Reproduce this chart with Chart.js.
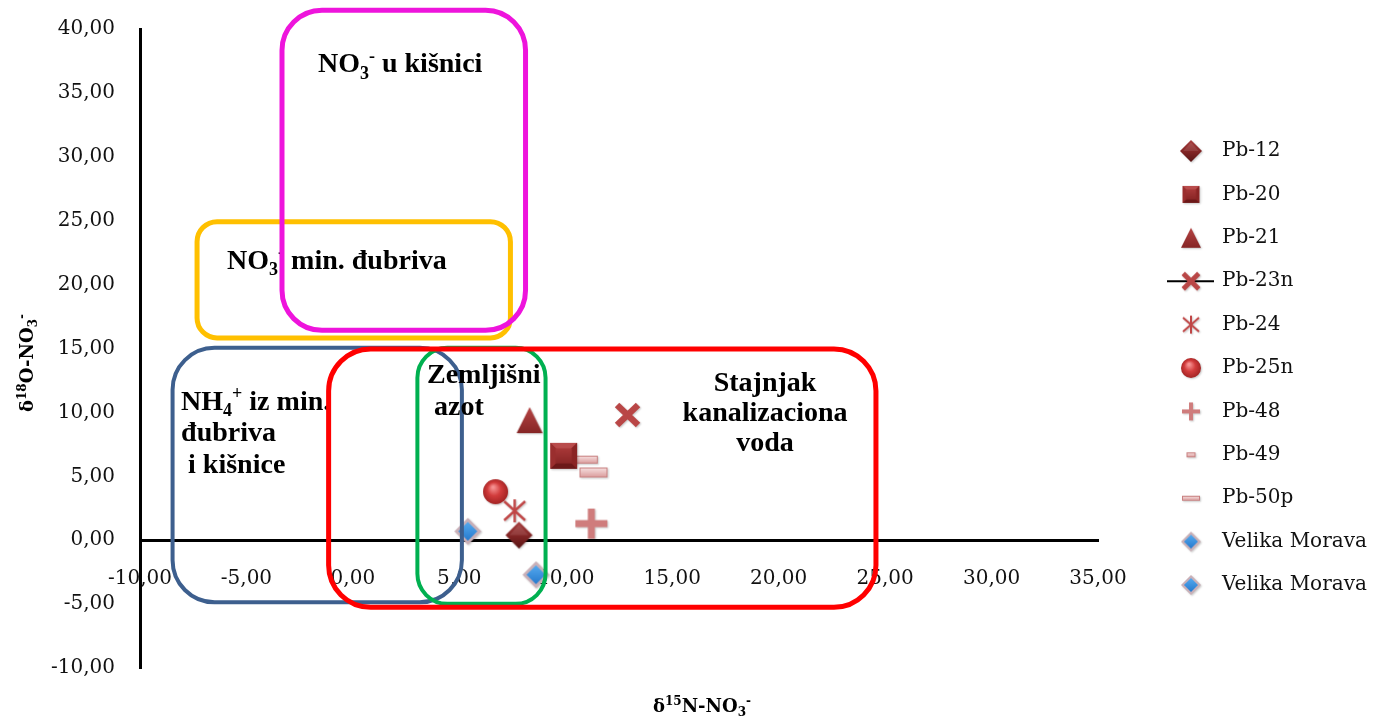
<!DOCTYPE html>
<html>
<head>
<meta charset="utf-8">
<title>δ15N / δ18O nitrata</title>
<script src="https://cdn.jsdelivr.net/npm/chart.js@4/dist/chart.umd.min.js"></script>
<style>
  html, body { margin: 0; padding: 0; background: #fff; }
  #wrap { width: 1387px; height: 717px; }
</style>
</head>
<body>
<div id="wrap"><canvas id="chart" width="1387" height="717"></canvas></div>
<script>
// axis ranges
const xMin = -10, xMax = 35, yMin = -10, yMax = 40, tickStep = 5;

// samples: d15N-NO3 (x) and d18O-NO3 (y)
const sampleNames = ['Pb-12', 'Pb-20', 'Pb-21', 'Pb-23n', 'Pb-24', 'Pb-25n', 'Pb-48', 'Pb-49', 'Pb-50p', 'Velika Morava', 'Velika Morava'];
const d15N = [7.8, 9.9, 8.3, 12.9, 7.6, 6.7, 11.2, 10.8, 11.3, 5.4, 8.6];
const d18O = [0.4, 6.6, 9.4, 9.8, 2.3, 3.8, 1.3, 6.3, 5.3, 0.7, -2.7];

// marker look per sample
const markerKinds = ['diamond', 'square', 'triangle', 'cross', 'asterisk', 'ball', 'plus', 'dash', 'dash', 'blueDiamond', 'blueDiamond'];
const plotSizes   = [[27,27],[27,26],[26,26],[27,26],[23,23],[25,25],[32,30],[30,8],[28,10],[27,27],[27,27]];
const legendSizes = [[22,22],[17,17],[20,20],[20,20],[18,18],[20,20],[18,18],[9,5],[18,5],[20,20],[20,20]];

// source fields (data units) with their labels
const regions = [
  { x: [-7.32, 7.40], y: [15.83, 24.92], color: '#FFC000', r: 20, w: 5,
    label: { x: -5.91, y: 21.24, align: 'left', lh: 31, lines: [[['NO',''],['3','sub'],['-','sup'],[' min. đubriva','']]] } },
  { x: [-3.33, 8.11], y: [16.42, 41.46], color: '#EE14DC', r: 40, w: 5,
    label: { x: -1.64, y: 36.6, align: 'left', lh: 31, lines: [[['NO',''],['3','sub'],['-','sup'],[' u kišnici','']]] } },
  { x: [-8.47, 5.12], y: [-4.86, 15.05], color: '#3D5F8E', r: 42, w: 4,
    label: { x: -8.07, y: 10.19, align: 'left', lh: 31.5, lines: [[['NH',''],['4','sub'],['+','sup'],[' iz min.','']], [['đubriva','']], [[' i kišnice','']]] } },
  { x: [3.03, 9.05], y: [-4.98, 15.05], color: '#00B050', r: 30, w: 4,
    label: { x: 3.48, y: 12.3, align: 'left', lh: 32, lines: [[['Zemljišni','']], [[' azot','']]] } },
  { x: [-1.14, 24.57], y: [-5.25, 14.97], color: '#FF0000', r: 42, w: 5,
    label: { x: 19.36, y: 11.68, align: 'center', lh: 30, lines: [[['Stajnjak','']], [['kanalizaciona','']], [['voda','']]] } }
];

const fmt = v => Number(v).toFixed(2).replace('.', ',');

// ---------- marker images ----------
function diamondPath(g, w, h, inset) {
  g.beginPath();
  g.moveTo(w / 2, inset);
  g.lineTo(w - inset, h / 2);
  g.lineTo(w / 2, h - inset);
  g.lineTo(inset, h / 2);
  g.closePath();
}

function makeMarker(kind, w, h) {
  const pad = 3;
  const c = document.createElement('canvas');
  c.width = w + pad * 2;
  c.height = h + pad * 2;
  const g = c.getContext('2d');
  g.translate(pad, pad);
  const s = w / 27;
  g.shadowColor = 'rgba(0,0,0,0.22)';
  g.shadowBlur = 2;
  g.shadowOffsetX = 1;
  g.shadowOffsetY = 1;

  if (kind === 'diamond') {
    const gr = g.createLinearGradient(0, 0, 0, h);
    gr.addColorStop(0, '#a94242');
    gr.addColorStop(0.5, '#842626');
    gr.addColorStop(1, '#581414');
    diamondPath(g, w, h, 0);
    g.fillStyle = gr;
    g.fill();
    g.shadowColor = 'transparent';
    g.beginPath();
    g.moveTo(w / 2, 3 * s); g.lineTo(w - 4 * s, h / 2); g.lineTo(4 * s, h / 2); g.closePath();
    g.fillStyle = 'rgba(255,255,255,0.10)';
    g.fill();
  } else if (kind === 'square') {
    g.fillStyle = '#8e2626';
    g.fillRect(0, 0, w, h);
    g.shadowColor = 'transparent';
    const facets = [
      [[0,0],[w,0],[w/2,h/2], '#b94c4c'],
      [[w,0],[w,h],[w/2,h/2], '#8a2424'],
      [[0,h],[w,h],[w/2,h/2], '#6c1818'],
      [[0,0],[0,h],[w/2,h/2], '#9a2e2e']
    ];
    facets.forEach(f => {
      g.beginPath(); g.moveTo(f[0][0], f[0][1]); g.lineTo(f[1][0], f[1][1]); g.lineTo(f[2][0], f[2][1]); g.closePath();
      g.fillStyle = f[3]; g.fill();
    });
    const i = w * 0.2;
    const gr = g.createLinearGradient(0, i, 0, h - i);
    gr.addColorStop(0, '#a83838');
    gr.addColorStop(1, '#8a2626');
    g.fillStyle = gr;
    g.fillRect(i, i, w - 2 * i, h - 2 * i);
  } else if (kind === 'triangle') {
    const gr = g.createLinearGradient(0, 0, 0, h);
    gr.addColorStop(0, '#b64444');
    gr.addColorStop(1, '#862626');
    g.beginPath(); g.moveTo(w / 2, 0); g.lineTo(w, h); g.lineTo(0, h); g.closePath();
    g.fillStyle = gr;
    g.fill();
  } else if (kind === 'cross') {
    g.strokeStyle = '#b94646';
    g.lineWidth = 6.5 * s;
    g.beginPath();
    g.moveTo(3 * s, 3 * s); g.lineTo(w - 3 * s, h - 3 * s);
    g.moveTo(w - 3 * s, 3 * s); g.lineTo(3 * s, h - 3 * s);
    g.stroke();
  } else if (kind === 'asterisk') {
    g.strokeStyle = '#c04646';
    g.lineWidth = Math.max(2, 2.8 * s);
    g.beginPath();
    g.moveTo(w / 2, 0); g.lineTo(w / 2, h);
    g.moveTo(1, 2); g.lineTo(w - 1, h - 2);
    g.moveTo(w - 1, 2); g.lineTo(1, h - 2);
    g.stroke();
  } else if (kind === 'ball') {
    const gr = g.createRadialGradient(w * 0.4, h * 0.32, 1, w / 2, h / 2, w * 0.55);
    gr.addColorStop(0, '#f59090');
    gr.addColorStop(0.45, '#d23c3c');
    gr.addColorStop(1, '#9c2020');
    g.beginPath(); g.arc(w / 2, h / 2, w / 2, 0, Math.PI * 2);
    g.fillStyle = gr;
    g.fill();
  } else if (kind === 'plus') {
    g.strokeStyle = '#cf7c7c';
    g.lineWidth = 7 * (w / 32);
    g.beginPath();
    g.moveTo(0, h / 2); g.lineTo(w, h / 2);
    g.moveTo(w / 2, 0); g.lineTo(w / 2, h);
    g.stroke();
  } else if (kind === 'dash') {
    const gr = g.createLinearGradient(0, 0, 0, h);
    gr.addColorStop(0, '#f8e2e2');
    gr.addColorStop(1, '#d99a9a');
    g.fillStyle = gr;
    g.fillRect(0, 0, w, h);
    g.shadowColor = 'transparent';
    g.strokeStyle = '#c88080';
    g.lineWidth = 1;
    g.strokeRect(0.5, 0.5, w - 1, h - 1);
  } else if (kind === 'blueDiamond') {
    diamondPath(g, w, h, 0);
    g.fillStyle = '#c9b0b8';
    g.fill();
    g.shadowColor = 'transparent';
    const gr = g.createLinearGradient(0, 0, 0, h);
    gr.addColorStop(0, '#5fb4f6');
    gr.addColorStop(1, '#1c6fc6');
    diamondPath(g, w, h, 4 * s);
    g.fillStyle = gr;
    g.fill();
  }
  return c;
}

const plotMarkers = markerKinds.map((k, i) => makeMarker(k, plotSizes[i][0], plotSizes[i][1]));
const legendMarkers = markerKinds.map((k, i) => makeMarker(k, legendSizes[i][0], legendSizes[i][1]));

// ---------- text with sub/superscripts ----------
function drawRich(ctx, parts, x, y, size, family, weight, align) {
  const fontFor = m => weight + ' ' + (m ? Math.round(size * 0.66) : size) + 'px ' + family;
  const widths = parts.map(([t, m]) => { ctx.font = fontFor(m); return ctx.measureText(t).width; });
  const total = widths.reduce((a, b) => a + b, 0);
  let cx = align === 'center' ? x - total / 2 : x;
  ctx.textAlign = 'left';
  ctx.textBaseline = 'alphabetic';
  parts.forEach(([t, m], i) => {
    ctx.font = fontFor(m);
    const dy = m === 'sub' ? size * 0.22 : m === 'sup' ? -size * 0.38 : 0;
    ctx.fillText(t, cx, y + dy);
    cx += widths[i];
  });
}

function roundRectPath(ctx, x0, y0, x1, y1, r) {
  const l = Math.min(x0, x1), rt = Math.max(x0, x1), t = Math.min(y0, y1), b = Math.max(y0, y1);
  r = Math.min(r, (rt - l) / 2, (b - t) / 2);
  ctx.beginPath();
  ctx.moveTo(l + r, t);
  ctx.arcTo(rt, t, rt, b, r);
  ctx.arcTo(rt, b, l, b, r);
  ctx.arcTo(l, b, l, t, r);
  ctx.arcTo(l, t, rt, t, r);
  ctx.closePath();
}

// ---------- overlay: source fields, axis titles, legend ----------
const legendTop = 151, legendStep = 43.4, legendMarkX = 1191, legendTextX = 1222;

const overlay = {
  id: 'overlay',
  afterDraw(chart) {
    const { ctx, scales: { x, y } } = chart;
    ctx.save();

    regions.forEach(rg => {
      ctx.strokeStyle = rg.color;
      ctx.lineWidth = rg.w;
      roundRectPath(ctx, x.getPixelForValue(rg.x[0]), y.getPixelForValue(rg.y[0]),
                         x.getPixelForValue(rg.x[1]), y.getPixelForValue(rg.y[1]), rg.r);
      ctx.stroke();
      const lb = rg.label;
      ctx.fillStyle = '#000';
      lb.lines.forEach((parts, li) => {
        drawRich(ctx, parts, x.getPixelForValue(lb.x), y.getPixelForValue(lb.y) + li * lb.lh,
                 28, '"Liberation Serif", serif', 'bold', lb.align);
      });
    });

    // axis titles
    ctx.fillStyle = '#000';
    drawRich(ctx, [['δ',''],['15','sup'],['N-NO',''],['3','sub'],['-','sup']], 702, 712, 18, '"DejaVu Serif", serif', 'bold', 'center');
    ctx.save();
    ctx.translate(33, 363);
    ctx.rotate(-Math.PI / 2);
    drawRich(ctx, [['δ',''],['18','sup'],['O-NO',''],['3','sub'],['-','sup']], 0, 0, 18, '"DejaVu Serif", serif', 'bold', 'center');
    ctx.restore();

    // legend
    chart.data.datasets.forEach((ds, i) => {
      const ly = legendTop + i * legendStep;
      if (ds.showLine) {
        ctx.strokeStyle = ds.borderColor;
        ctx.lineWidth = ds.borderWidth;
        ctx.beginPath();
        ctx.moveTo(1167, ly);
        ctx.lineTo(1214, ly);
        ctx.stroke();
      }
      const img = legendMarkers[i];
      ctx.drawImage(img, legendMarkX - img.width / 2, ly - img.height / 2);
      ctx.font = '20px "DejaVu Serif", serif';
      ctx.textAlign = 'left';
      ctx.textBaseline = 'middle';
      ctx.fillStyle = '#111';
      ctx.fillText(ds.label, legendTextX, ly);
    });

    ctx.restore();
  }
};

const datasets = sampleNames.map((name, i) => ({
  label: name,
  data: [{ x: d15N[i], y: d18O[i] }],
  pointStyle: plotMarkers[i],
  pointRadius: 13,
  pointHoverRadius: 13,
  showLine: name === 'Pb-23n',
  borderColor: '#000',
  borderWidth: 2
}));

const tickFont = { family: '"DejaVu Serif", serif', size: 20 };

new Chart(document.getElementById('chart'), {
  type: 'scatter',
  data: { datasets },
  options: {
    responsive: false,
    animation: false,
    devicePixelRatio: 1,
    layout: { padding: { left: 0, top: 29, right: 289, bottom: 49 } },
    plugins: { legend: { display: false }, tooltip: { enabled: false } },
    scales: {
      x: {
        type: 'linear', min: xMin, max: xMax,
        position: { y: 0 },
        grid: { display: false, drawTicks: false },
        border: { display: true, color: '#000', width: 3 },
        ticks: { stepSize: tickStep, padding: 27, color: '#111', font: tickFont, maxRotation: 0, autoSkip: false, callback: fmt }
      },
      y: {
        type: 'linear', min: yMin, max: yMax,
        position: 'left',
        grid: { display: false, drawTicks: false },
        border: { display: true, color: '#000', width: 3 },
        ticks: { stepSize: tickStep, padding: 25, color: '#111', font: tickFont, autoSkip: false, callback: fmt },
        // fixed axis width; the outer padding already leaves room for the end labels
        afterFit: s => { s.width = 140; s.paddingTop = 0; s.paddingBottom = 0; }
      }
    }
  },
  plugins: [overlay]
});
</script>
</body>
</html>
